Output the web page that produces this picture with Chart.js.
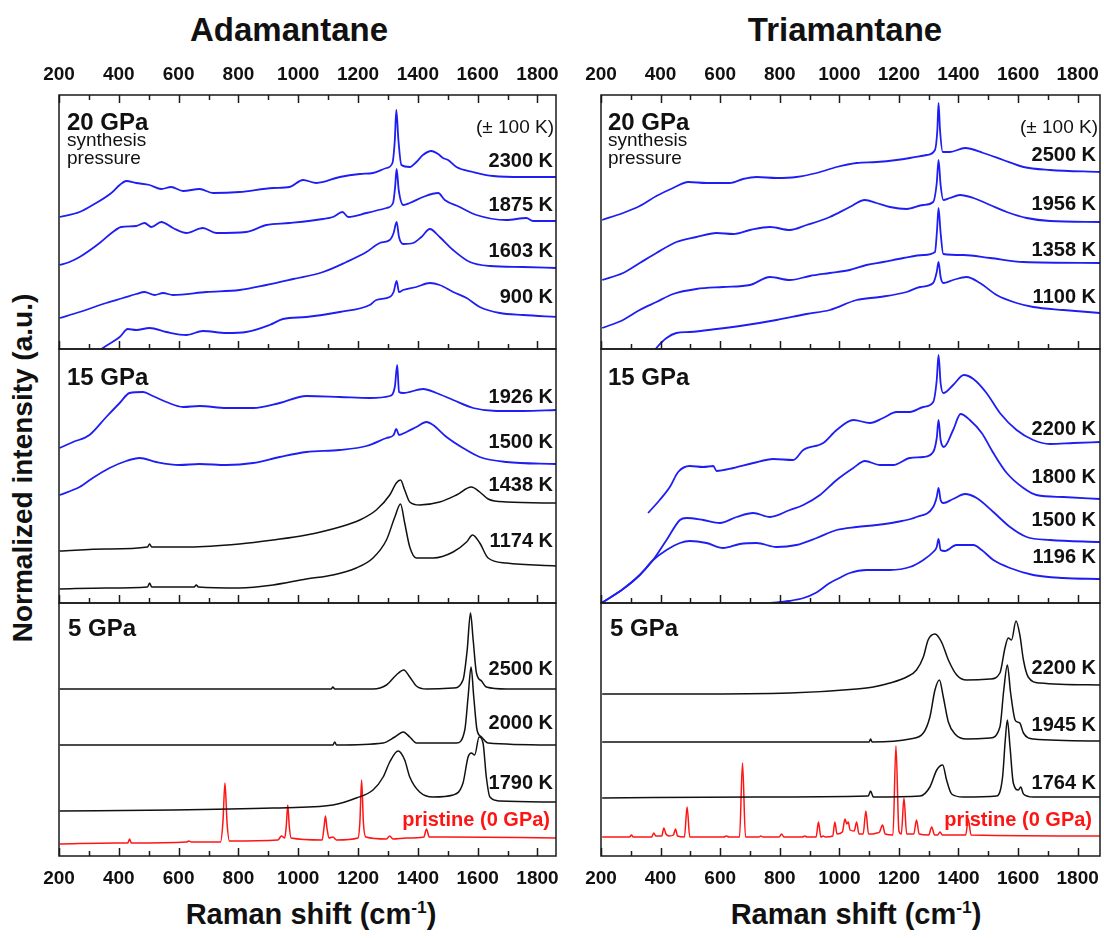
<!DOCTYPE html>
<html><head><meta charset="utf-8">
<script src="https://cdn.jsdelivr.net/npm/chart.js@4/dist/chart.umd.min.js"></script>
<style>
html,body{margin:0;padding:0;background:#fff;}
#fig{position:relative;width:1104px;height:938px;overflow:hidden;background:#fff;}
#fig canvas{position:absolute;}
.lbl{position:absolute;transform:translate(-50%,-50%);font-family:'Liberation Sans',Arial,Helvetica,sans-serif;font-weight:bold;line-height:1;white-space:nowrap;color:#111;}
.lbl sup{font-size:0.6em;vertical-align:0.6em;line-height:0;}
</style></head><body>
<div id="fig">
  <div class="lbl" style="left:289px;top:29px;font-size:33px">Adamantane</div>
  <div class="lbl" style="left:845px;top:29px;font-size:33px">Triamantane</div>
  <div class="lbl" style="left:311px;top:914px;font-size:29px">Raman shift (cm<sup>-1</sup>)</div>
  <div class="lbl" style="left:856px;top:914px;font-size:29px">Raman shift (cm<sup>-1</sup>)</div>
  <div class="lbl" style="left:23px;top:468px;font-size:28px;transform:translate(-50%,-50%) rotate(-90deg)">Normalized intensity (a.u.)</div>
</div>
<script>
// ---------- axis ticks ----------
const X_TICKS = [200, 400, 600, 800, 1000, 1200, 1400, 1600, 1800];
const X_MINOR = [300, 500, 700, 900, 1100, 1300, 1500, 1700];

// ---------- spectra: [Raman shift (cm-1), intensity (a.u., offset stacked)] ----------
// Adamantane, 20 GPa
const ada20_2300K = [[202,132],[269,137],[313,144],[375,156],[403,164],[425,168],[458,166],[503,164],[542,160],[575,162],[615,158],[670,160],[715,156],[804,157],[916,161],[971,162],[1016,169],[1061,166],[1139,172],[1206,175],[1250,176],[1295,181],[1315,186],[1323,209],[1328,239],[1335,209],[1345,184],[1373,182],[1395,187],[1417,194],[1445,198],[1468,195],[1484,191],[1501,189],[1529,182],[1585,177],[1652,173],[1752,172],[1864,172]];
const ada20_1875K = [[202,84],[235,87],[269,92],[336,106],[380,117],[408,122],[458,123],[486,126],[509,122],[542,127],[581,121],[626,116],[681,121],[726,116],[826,117],[893,124],[971,126],[1083,130],[1116,132],[1148,137],[1167,132],[1228,136],[1295,141],[1317,146],[1324,162],[1329,180],[1336,159],[1351,144],[1373,146],[1417,152],[1468,156],[1490,149],[1540,142],[1596,134],[1696,129],[1763,131],[1785,128],[1864,128]];
const ada20_1603K = [[202,31],[269,37],[358,46],[414,51],[458,55],[486,57],[520,54],[548,56],[581,54],[693,57],[804,59],[893,64],[983,70],[1083,77],[1161,87],[1228,97],[1273,106],[1306,109],[1319,116],[1329,127],[1337,112],[1351,105],[1384,106],[1412,112],[1440,120],[1473,112],[1518,99],[1574,87],[1641,83],[1752,82],[1864,81]];
const ada20_900K = [[313,-8],[347,1],[403,12],[430,20],[458,19],[503,21],[559,17],[626,14],[681,18],[760,16],[826,17],[904,24],[949,30],[1027,32],[1139,37],[1239,44],[1261,49],[1306,52],[1319,57],[1329,68],[1337,57],[1351,59],[1395,62],[1440,66],[1473,64],[1518,57],[1563,51],[1607,42],[1674,36],[1752,34],[1864,32]];
// Triamantane, 20 GPa
const tri20_2500K = [[204,129],[274,136],[330,143],[386,153],[442,161],[493,167],[554,166],[632,166],[677,170],[722,172],[789,171],[856,172],[924,176],[991,182],[1058,186],[1125,187],[1192,189],[1237,191],[1293,194],[1321,199],[1329,219],[1333,246],[1338,219],[1347,197],[1371,197],[1422,201],[1483,196],[1550,189],[1618,182],[1707,179],[1875,177]];
const tri20_1956K = [[204,69],[274,76],[330,86],[386,96],[453,107],[520,112],[588,116],[644,115],[700,119],[767,122],[834,119],[890,124],[968,132],[1035,142],[1086,149],[1125,146],[1170,142],[1226,140],[1282,144],[1315,147],[1327,166],[1333,189],[1340,164],[1349,149],[1371,151],[1405,154],[1450,151],[1506,144],[1562,137],[1629,131],[1707,128],[1875,127]];
const tri20_1358K = [[204,21],[274,29],[330,39],[386,47],[442,55],[520,60],[610,62],[700,64],[767,72],[834,69],[901,73],[968,76],[1035,79],[1091,84],[1147,87],[1215,91],[1282,94],[1321,97],[1328,119],[1333,141],[1340,116],[1349,95],[1416,94],[1506,91],[1618,87],[1875,86]];
const tri20_1100K = [[364,-8],[386,1],[420,11],[453,16],[498,17],[588,20],[688,24],[789,29],[890,35],[968,39],[1058,49],[1136,52],[1226,57],[1271,62],[1315,66],[1327,77],[1333,87],[1340,72],[1349,66],[1382,69],[1427,72],[1472,66],[1528,54],[1595,46],[1651,42],[1752,39],[1875,36]];
// Adamantane, 15 GPa
const ada15_1926K = [[202,155],[247,161],[302,168],[358,186],[403,200],[436,210],[481,211],[514,207],[559,201],[615,196],[670,197],[760,195],[849,195],[938,200],[1027,207],[1139,206],[1239,205],[1306,207],[1323,216],[1331,238],[1337,211],[1351,210],[1418,214],[1462,210],[1518,203],[1585,195],[1663,192],[1752,192],[1864,193]];
const ada15_1500K = [[202,108],[269,116],[313,125],[369,135],[425,142],[470,145],[525,141],[603,138],[670,139],[760,138],[849,140],[938,146],[1027,151],[1139,153],[1228,157],[1295,165],[1319,168],[1328,174],[1337,168],[1362,171],[1395,176],[1429,181],[1451,178],[1496,166],[1551,155],[1607,146],[1696,141],[1864,139]];
const ada15_1438K = [[202,52],[358,54],[496,56],[503,59],[510,56],[637,56],[804,59],[916,63],[1027,68],[1139,76],[1206,83],[1261,93],[1306,108],[1328,120],[1342,123],[1356,113],[1373,101],[1406,98],[1473,101],[1529,108],[1579,116],[1607,111],[1635,104],[1696,101],[1864,100]];
const ada15_1174K = [[202,14],[358,15],[496,16],[503,20],[510,16],[652,16],[659,18],[666,16],[804,15],[916,18],[1027,24],[1116,28],[1194,35],[1250,45],[1295,63],[1323,86],[1342,99],[1356,80],[1373,56],[1395,45],[1451,45],[1518,51],[1563,61],[1583,68],[1607,60],[1635,45],[1696,40],[1864,37]];
// Triamantane, 15 GPa
const tri15_2200K = [[358,90],[397,103],[431,116],[459,131],[498,137],[543,136],[577,137],[588,132],[644,135],[711,140],[778,144],[845,143],[879,153],[946,160],[991,173],[1047,183],[1103,180],[1147,185],[1192,191],[1237,191],[1282,196],[1315,201],[1327,223],[1333,248],[1340,220],[1349,210],[1382,218],[1418,228],[1450,224],[1494,210],[1539,190],[1595,173],[1651,163],[1707,159],[1786,160],[1875,161]];
const tri15_1800K = [[202,0],[274,14],[330,28],[375,43],[420,63],[465,83],[487,85],[543,83],[599,80],[655,86],[711,90],[767,86],[834,93],[879,98],[935,108],[991,123],[1047,135],[1086,142],[1136,138],[1181,138],[1237,145],[1282,146],[1315,151],[1327,165],[1333,183],[1340,163],[1351,156],[1382,173],[1407,189],[1438,183],[1478,170],[1517,150],[1562,130],[1618,115],[1662,108],[1752,106],[1875,104]];
const tri15_1500K = [[202,0],[274,14],[330,28],[375,43],[420,53],[465,60],[498,62],[554,60],[610,55],[666,59],[722,60],[789,56],[856,58],[924,65],[991,73],[1058,76],[1125,78],[1192,81],[1259,86],[1315,96],[1327,106],[1333,115],[1340,103],[1349,100],[1382,104],[1422,109],[1461,105],[1517,91],[1573,76],[1629,66],[1707,63],[1875,61]];
const tri15_1196K = [[770,0],[830,2],[880,5],[920,10],[968,20],[1000,25],[1035,30],[1091,33],[1170,33],[1237,36],[1282,43],[1315,51],[1327,56],[1333,64],[1340,53],[1354,52],[1393,58],[1450,58],[1478,53],[1517,43],[1573,35],[1651,28],[1752,25],[1875,24]];
// Adamantane, 5 GPa
const ada5_2500K = [[202,167],[693,167],[1110,167],[1116,169],[1122,167],[1250,167],[1295,171],[1328,181],[1353,186],[1373,179],[1395,170],[1429,167],[1518,168],[1551,176],[1565,206],[1576,243],[1585,216],[1596,183],[1613,175],[1629,169],[1696,167],[1864,167]];
const ada5_2000K = [[202,111],[693,111],[1116,111],[1122,114],[1128,111],[1284,113],[1323,119],[1351,124],[1373,119],[1395,113],[1529,113],[1557,126],[1568,159],[1578,189],[1587,159],[1598,126],[1613,119],[1635,113],[1864,111]];
const ada5_1790K = [[202,45],[581,46],[916,48],[1116,51],[1194,58],[1250,66],[1284,79],[1306,94],[1334,105],[1356,96],[1373,79],[1406,64],[1451,59],[1518,61],[1551,73],[1568,99],[1579,103],[1590,101],[1605,119],[1618,113],[1629,79],[1641,59],[1674,55],[1864,54]];
const ada0_pristine = [[202,12],[392,13],[430,13],[436,17],[442,13],[626,14],[635,15],[642,14],[740,14],[748,33],[755,73],[762,33],[770,15],[932,16],[944,20],[955,18],[960,30],[965,51],[970,30],[976,18],[1080,16],[1086,28],[1091,40],[1096,28],[1103,18],[1116,19],[1128,16],[1200,18],[1206,33],[1212,76],[1218,33],[1226,19],[1295,17],[1306,20],[1317,17],[1362,18],[1420,19],[1429,27],[1438,19],[1496,19],[1864,18]];
// Triamantane, 5 GPa
const tri5_2200K = [[204,162],[498,162],[834,163],[1058,167],[1114,169],[1170,173],[1226,179],[1259,186],[1282,199],[1298,216],[1321,222],[1343,214],[1366,196],[1394,181],[1427,176],[1506,177],[1539,183],[1556,208],[1567,218],[1578,216],[1593,235],[1606,221],[1618,196],[1634,179],[1673,173],[1875,171]];
const tri5_1945K = [[204,114],[722,114],[1100,114],[1105,117],[1110,114],[1237,117],[1282,123],[1304,139],[1321,166],[1336,176],[1349,159],[1366,134],[1388,122],[1427,117],[1506,118],[1539,129],[1552,166],[1564,191],[1575,163],[1590,136],[1598,134],[1606,133],[1618,123],[1651,117],[1875,115]];
const tri5_1764K = [[204,58],[722,59],[1097,60],[1105,65],[1114,59],[1271,60],[1304,69],[1327,86],[1347,91],[1360,76],[1377,62],[1416,59],[1528,60],[1548,79],[1557,116],[1564,136],[1573,109],[1584,73],[1601,66],[1609,69],[1618,62],[1651,59],[1875,59]];
const tri0_pristine = [[204,19],[296,19],[302,21],[308,19],[370,19],[377,23],[384,20],[404,20],[411,28],[418,22],[430,20],[443,21],[450,27],[457,20],[480,19],[489,49],[498,19],[612,19],[621,20],[630,19],[665,19],[675,93],[685,19],[730,19],[737,20],[744,19],[798,19],[806,22],[814,19],[876,19],[884,20],[892,19],[922,19],[930,34],[938,19],[946,20],[953,19],[978,20],[985,34],[992,22],[1010,24],[1019,37],[1025,32],[1030,34],[1036,26],[1050,25],[1058,34],[1066,22],[1080,22],[1089,45],[1098,22],[1110,22],[1125,23],[1135,24],[1145,31],[1154,22],[1180,21],[1190,110],[1200,25],[1208,22],[1217,58],[1226,22],[1250,22],[1259,36],[1268,22],[1300,21],[1310,29],[1320,21],[1330,21],[1338,24],[1346,21],[1424,21],[1433,37],[1442,21],[1875,20]];

// ---------- styling / layout ----------
const FONT = "'Liberation Sans', Arial, Helvetica, sans-serif";
const BLUE = '#1e1ef2', BLACK = '#111111', RED = '#ff1414', INK = '#1a1a1a';
const COLS = { left: { L: 59, R: 556, xMax: 1862 }, right: { L: 601, R: 1100, xMax: 1875 } };
const ROWS = [ { top: 95, bottom: 349 }, { top: 349, bottom: 603 }, { top: 603, bottom: 856 } ];
const AXIS_H = 45, PADX = 40;

const B = (t, dy, dx = 3, size = 20) => ({ t, align: 'right', dx, dy, size, weight: 'bold', color: BLACK });
const panels = [
  { col: 'left', row: 0, series: [[ada20_2300K, BLUE], [ada20_1875K, BLUE], [ada20_1603K, BLUE], [ada20_900K, BLUE]],
    texts: [ { t: '20 GPa', align: 'left', dx: 8, dy: 35, size: 24, weight: 'bold', color: BLACK },
             { t: 'synthesis', align: 'left', dx: 8, dy: 51, size: 19, weight: 'normal', color: BLACK },
             { t: 'pressure', align: 'left', dx: 8, dy: 69, size: 19, weight: 'normal', color: BLACK },
             { t: '(± 100 K)', align: 'right', dx: 2, dy: 38, size: 19, weight: 'normal', color: BLACK },
             B('2300 K', 72), B('1875 K', 116), B('1603 K', 162), B('900 K', 208) ] },
  { col: 'right', row: 0, series: [[tri20_2500K, BLUE], [tri20_1956K, BLUE], [tri20_1358K, BLUE], [tri20_1100K, BLUE]],
    texts: [ { t: '20 GPa', align: 'left', dx: 7, dy: 35, size: 24, weight: 'bold', color: BLACK },
             { t: 'synthesis', align: 'left', dx: 7, dy: 51, size: 19, weight: 'normal', color: BLACK },
             { t: 'pressure', align: 'left', dx: 7, dy: 69, size: 19, weight: 'normal', color: BLACK },
             { t: '(± 100 K)', align: 'right', dx: 2, dy: 38, size: 19, weight: 'normal', color: BLACK },
             B('2500 K', 66, 4), B('1956 K', 115, 4), B('1358 K', 161, 4), B('1100 K', 208, 4) ] },
  { col: 'left', row: 1, series: [[ada15_1926K, BLUE], [ada15_1500K, BLUE], [ada15_1438K, BLACK], [ada15_1174K, BLACK]],
    texts: [ { t: '15 GPa', align: 'left', dx: 8, dy: 36, size: 24, weight: 'bold', color: BLACK },
             B('1926 K', 54), B('1500 K', 99), B('1438 K', 142), B('1174 K', 198) ] },
  { col: 'right', row: 1, series: [[tri15_2200K, BLUE], [tri15_1800K, BLUE], [tri15_1500K, BLUE], [tri15_1196K, BLUE]],
    texts: [ { t: '15 GPa', align: 'left', dx: 7, dy: 36, size: 24, weight: 'bold', color: BLACK },
             B('2200 K', 86, 4), B('1800 K', 134, 4), B('1500 K', 177, 4), B('1196 K', 214, 4) ] },
  { col: 'left', row: 2, series: [[ada5_2500K, BLACK], [ada5_2000K, BLACK], [ada5_1790K, BLACK], [ada0_pristine, RED]],
    texts: [ { t: '5 GPa', align: 'left', dx: 9, dy: 33, size: 24, weight: 'bold', color: BLACK },
             B('2500 K', 72), B('2000 K', 126), B('1790 K', 186),
             { t: 'pristine (0 GPa)', align: 'right', dx: 6, dy: 223, size: 20, weight: 'bold', color: RED } ] },
  { col: 'right', row: 2, series: [[tri5_2200K, BLACK], [tri5_1945K, BLACK], [tri5_1764K, BLACK], [tri0_pristine, RED]],
    texts: [ { t: '5 GPa', align: 'left', dx: 9, dy: 33, size: 24, weight: 'bold', color: BLACK },
             B('2200 K', 71, 4), B('1945 K', 128, 4), B('1764 K', 186, 4),
             { t: 'pristine (0 GPa)', align: 'right', dx: 8, dy: 223, size: 20, weight: 'bold', color: RED } ] }
];

// frame, inside tick marks and in-panel annotations
const panelDecor = {
  id: 'panelDecor',
  afterDraw(chart, args, opts) {
    const { ctx, chartArea: a } = chart;
    const x = chart.scales.x;
    ctx.save();
    ctx.strokeStyle = INK;
    ctx.lineWidth = 1.5;
    ctx.beginPath();
    const mark = (v, len) => {
      const px = Math.round(x.getPixelForValue(v)) + 0.5;
      ctx.moveTo(px, a.bottom); ctx.lineTo(px, a.bottom - len);
      if (opts.topTicks) { ctx.moveTo(px, a.top); ctx.lineTo(px, a.top + len); }
    };
    X_TICKS.forEach(v => mark(v, 8));
    X_MINOR.forEach(v => mark(v, 5));
    ctx.stroke();
    ctx.strokeRect(a.left, a.top, a.right - a.left, a.bottom - a.top);
    for (const t of opts.texts || []) {
      ctx.font = `${t.weight} ${t.size}px ${FONT}`;
      ctx.fillStyle = t.color;
      ctx.textAlign = t.align;
      ctx.textBaseline = 'alphabetic';
      const px = t.align === 'left' ? a.left + t.dx : a.right - t.dx;
      ctx.fillText(t.t, px, a.top + t.dy);
    }
    ctx.restore();
  }
};

const fig = document.getElementById('fig');
for (const p of panels) {
  const c = COLS[p.col], r = ROWS[p.row];
  const isTop = p.row === 0, isBottom = p.row === 2;
  const showAxis = isTop || isBottom;
  const padTop = isTop ? 0 : 2, padBottom = isBottom ? 0 : 2;
  const canvasTop = r.top - (isTop ? AXIS_H : 0) - padTop;
  const canvasH = (r.bottom - r.top) + padTop + padBottom + (showAxis ? AXIS_H : 0);
  const canvasW = (c.R - c.L) + 2 * PADX;
  const cv = document.createElement('canvas');
  cv.width = canvasW; cv.height = canvasH;
  cv.style.left = (c.L - PADX) + 'px';
  cv.style.top = canvasTop + 'px';
  cv.style.width = canvasW + 'px';
  cv.style.height = canvasH + 'px';
  fig.appendChild(cv);

  new Chart(cv, {
    type: 'line',
    data: {
      datasets: p.series.map(([arr, color]) => ({
        data: arr.map(([x, y]) => ({ x, y })),
        borderColor: color,
        borderWidth: color === BLUE ? 1.8 : 1.5,
        pointRadius: 0,
        fill: false,
        cubicInterpolationMode: 'monotone',
        clip: 0
      }))
    },
    options: {
      responsive: false,
      maintainAspectRatio: false,
      animation: false,
      devicePixelRatio: 1,
      events: [],
      layout: { padding: { left: PADX, right: PADX, top: padTop, bottom: padBottom } },
      plugins: {
        legend: { display: false },
        tooltip: { enabled: false },
        panelDecor: { topTicks: isTop, texts: p.texts }
      },
      scales: {
        x: {
          type: 'linear',
          min: 200,
          max: c.xMax,
          display: showAxis,
          position: isTop ? 'top' : 'bottom',
          grid: { display: false, drawTicks: false },
          border: { display: false },
          afterBuildTicks: s => { s.ticks = X_TICKS.map(v => ({ value: v })); },
          afterFit: s => { s.height = showAxis ? AXIS_H : 0; },
          ticks: {
            autoSkip: false, maxRotation: 0, minRotation: 0,
            padding: isTop ? 9 : 11,
            color: BLACK,
            font: { family: FONT, size: 19, weight: 'bold' },
            callback: v => String(v)
          }
        },
        y: { type: 'linear', display: false, min: 0, max: r.bottom - r.top }
      }
    },
    plugins: [panelDecor]
  });
}
</script>
</body></html>
